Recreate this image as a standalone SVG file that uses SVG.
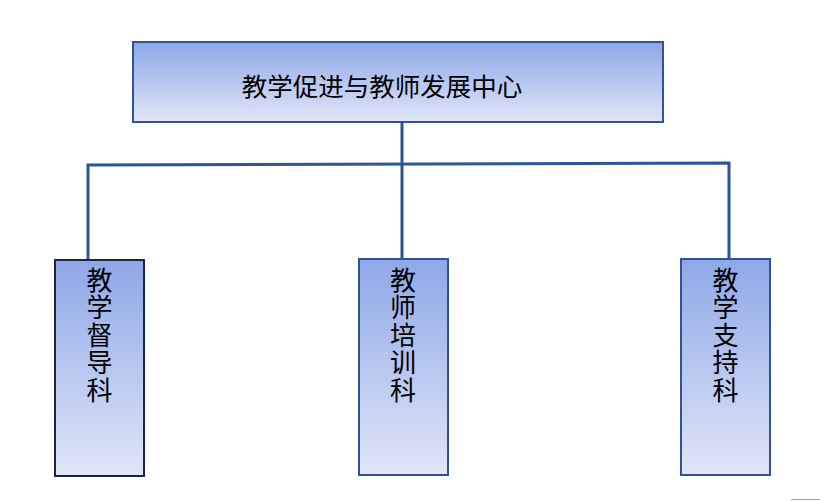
<svg xmlns="http://www.w3.org/2000/svg" width="820" height="501" viewBox="0 0 820 501">
<defs>
<linearGradient id="g" x1="0" y1="0" x2="0" y2="1">
<stop offset="0" stop-color="#8EA7E7"/>
<stop offset="1" stop-color="#E0E6F7"/>
</linearGradient>
<style>
.box{fill:url(#g);stroke:#2F5597;stroke-width:2}
.dark{stroke:#1B2642}
.t{font-family:"Noto Sans CJK SC","Liberation Sans",sans-serif;font-size:25.5px;fill:#000}
.v{font-family:"Noto Sans CJK SC","Liberation Sans",sans-serif;font-size:26px;fill:#000;writing-mode:vertical-rl;text-orientation:upright;letter-spacing:1.5px}
.c{fill:none;stroke:#2F5597;stroke-width:3}
</style>
</defs>
<rect width="820" height="501" fill="#fff"/>
<g id="connectors">
<line class="c" x1="402" y1="122" x2="402" y2="259"/>
<polyline class="c" points="88,260 88,165 729,163 729,259"/>
</g>
<g id="center">
<rect class="box" x="133" y="42" width="530" height="80"/>
<text class="t" x="382" y="96" text-anchor="middle">教学促进与教师发展中心</text>
</g>
<g id="dudao">
<rect class="box dark" x="55" y="260" width="89" height="216"/>
<text class="v" x="99.5" y="267">教学督导科</text>
</g>
<g id="peixun">
<rect class="box" x="359" y="259" width="89" height="216"/>
<text class="v" x="403" y="267">教师培训科</text>
</g>
<g id="zhichi">
<rect class="box" x="681" y="259" width="89" height="216"/>
<text class="v" x="725.5" y="267">教学支持科</text>
</g>
<line x1="791" y1="499.5" x2="820" y2="499.5" stroke="#A6A6A6" stroke-width="1"/>
</svg>
